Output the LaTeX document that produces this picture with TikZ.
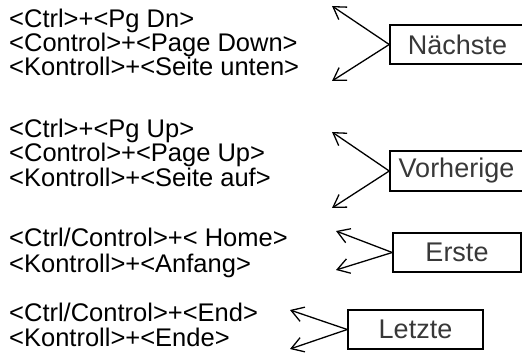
\documentclass[tikz,border=0pt]{standalone}
\usepackage{fontspec}
\setmainfont{Liberation Sans}
\usetikzlibrary{arrows.meta}
\tikzset{
  keyline/.style={anchor=base west, inner sep=0pt, font=\fontsize{25.5}{26}\selectfont},
  cmdbox/.style={draw=black, line width=1.5pt, inner sep=0pt, text=black!78,
    font=\fontsize{27}{30}\selectfont},
  pointer/.style={line width=1.3pt, -{Straight Barb[length=12pt,width=15pt]}}
}
\begin{document}
\begin{tikzpicture}[x=1pt,y=-1pt]
\useasboundingbox (0,0) rectangle (522,358);
\clip (0,0) rectangle (522,358);
% key combinations
\node[keyline] (n1) at (9,28) {<Ctrl>+<Pg Dn>};
\node[keyline] (n2) at (9,52) {<Control>+<Page Down>};
\node[keyline] (n3) at (9,76) {<Kontroll>+<Seite unten>};
\node[keyline] (p1) at (9,138) {<Ctrl>+<Pg Up>};
\node[keyline] (p2) at (9,162) {<Control>+<Page Up>};
\node[keyline] (p3) at (9,187) {<Kontroll>+<Seite auf>};
\node[keyline] (h1) at (9,247) {<Ctrl/Control>+< Home>};
\node[keyline] (h2) at (9,272) {<Kontroll>+<Anfang>};
\node[keyline] (e1) at (9,321) {<Ctrl/Control>+<End>};
\node[keyline] (e2) at (9,346) {<Kontroll>+<Ende>};
% command boxes
\node[cmdbox, minimum width=135pt, minimum height=39pt] (next) at (457.5,44.5) {Nächste};
\node[cmdbox, minimum width=133pt, minimum height=40pt] (prev) at (456.5,171) {Vorherige};
\node[cmdbox, minimum width=128pt, minimum height=39pt] (first) at (457,252.5) {Erste};
\node[cmdbox, minimum width=135pt, minimum height=39pt] (last) at (415.5,329.5) {Letzte};
% arrow targets
\coordinate (nA) at (332,6);   \coordinate (nB) at (332,81);
\coordinate (pA) at (332,132); \coordinate (pB) at (332,208);
\coordinate (fA) at (336,231); \coordinate (fB) at (336,270);
\coordinate (lA) at (290,310); \coordinate (lB) at (290,349);
\draw[pointer] (next.west) -- (nA);
\draw[pointer] (next.west) -- (nB);
\draw[pointer] (prev.west) -- (pA);
\draw[pointer] (prev.west) -- (pB);
\draw[pointer] (first.west) -- (fA);
\draw[pointer] (first.west) -- (fB);
\draw[pointer] (last.west) -- (lA);
\draw[pointer] (last.west) -- (lB);
\end{tikzpicture}
\end{document}
